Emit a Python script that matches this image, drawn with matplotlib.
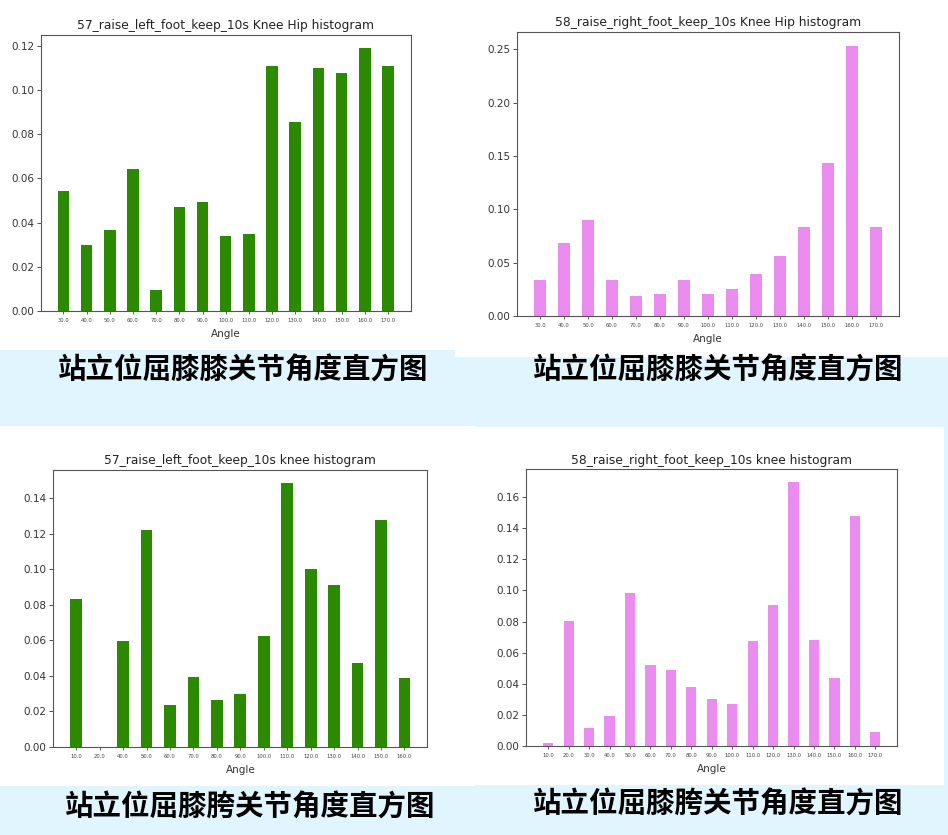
import matplotlib
matplotlib.use("Agg")
import matplotlib.pyplot as plt
from matplotlib.patches import Rectangle

W, H = 948, 835

# --- data ---
hip_left_angles = [30, 40, 50, 60, 70, 80, 90, 100, 110, 120, 130, 140, 150, 160, 170]
hip_left_vals = [0.0542, 0.0299, 0.0367, 0.0643, 0.0092, 0.0471, 0.0492, 0.0340,
                 0.0346, 0.1112, 0.0856, 0.1099, 0.1079, 0.1191, 0.1109]

hip_right_angles = [30, 40, 50, 60, 70, 80, 90, 100, 110, 120, 130, 140, 150, 160, 170]
hip_right_vals = [0.0333, 0.0684, 0.0902, 0.0339, 0.0183, 0.0202, 0.0333, 0.0211,
                  0.0249, 0.0392, 0.0566, 0.0836, 0.1437, 0.2537, 0.0836]

knee_left_angles = [10, 20, 40, 50, 60, 70, 80, 90, 100, 110, 120, 130, 140, 150, 160]
knee_left_vals = [0.0835, 0.0, 0.0595, 0.1220, 0.0236, 0.0397, 0.0266, 0.0296,
                  0.0625, 0.1486, 0.1005, 0.0915, 0.0474, 0.1278, 0.0387]

knee_right_angles = [10, 20, 30, 40, 50, 60, 70, 80, 90, 100, 110, 120, 130, 140, 150, 160, 170]
knee_right_vals = [0.0021, 0.0803, 0.0117, 0.0190, 0.0983, 0.0519, 0.0489, 0.0382, 0.0305,
                   0.0267, 0.0675, 0.0906, 0.1694, 0.0684, 0.0434, 0.1476, 0.0088]

titles = ["57_raise_left_foot_keep_10s Knee Hip histogram",
          "58_raise_right_foot_keep_10s Knee Hip histogram",
          "57_raise_left_foot_keep_10s knee histogram",
          "58_raise_right_foot_keep_10s knee histogram"]
captions = ["站立位屈膝膝关节角度直方图", "站立位屈膝膝关节角度直方图",
            "站立位屈膝胯关节角度直方图", "站立位屈膝胯关节角度直方图"]

GREEN = "#2b8a00"
VIOLET = "#ea8cf0"
BG = "#e0f5fd"

fig = plt.figure(figsize=(W / 100, H / 100), dpi=100)
fig.patch.set_facecolor(BG)


def px_rect(x0, y0, x1, y1):
    return [x0 / W, 1 - y1 / H, (x1 - x0) / W, (y1 - y0) / H]


# white panels behind each chart
for x0, y0, x1, y1 in [(0, 0, 455, 350), (455, 0, 948, 357),
                       (0, 426, 475, 786), (475, 427, 944, 785)]:
    fig.patches.append(Rectangle((x0 / W, 1 - y1 / H), (x1 - x0) / W, (y1 - y0) / H,
                                 transform=fig.transFigure, facecolor="white",
                                 edgecolor="none", zorder=-1))

panels = [
    (hip_left_angles, hip_left_vals, GREEN, (40.7, 35, 410.7, 310.7)),
    (hip_right_angles, hip_right_vals, VIOLET, (516.7, 32, 899, 316)),
    (knee_left_angles, knee_left_vals, GREEN, (53.3, 470, 427.3, 747)),
    (knee_right_angles, knee_right_vals, VIOLET, (526.3, 469.3, 897.3, 746)),
]

for (angles, vals, color, rect), title in zip(panels, titles):
    ax = fig.add_axes(px_rect(*rect))
    labels = [f"{a:.1f}" for a in angles]
    ax.bar(labels, vals, width=0.5, color=color)
    ax.set_title(title, fontsize=8.8, color="#222222", pad=4)
    ax.set_xlabel("Angle", fontsize=7.5, color="#333333", labelpad=4.5)
    ax.tick_params(axis="x", labelsize=3.8, length=2.5, width=0.6, pad=2.5, colors="#444444")
    ax.tick_params(axis="y", labelsize=7.5, length=2.8, width=0.6, pad=2, colors="#333333")
    for s in ax.spines.values():
        s.set_color("#555555")
        s.set_linewidth(0.8)

cap_font = ["Noto Sans CJK SC", "DejaVu Sans"]
for (cx, cy), text in zip([(243, 371), (718, 371), (250, 808), (718, 805)], captions):
    fig.text(cx / W, 1 - cy / H, text, fontsize=20.5, family=cap_font, weight="bold",
             ha="center", va="center", color="black")

fig.savefig("out.png", dpi=100, facecolor=fig.get_facecolor())
